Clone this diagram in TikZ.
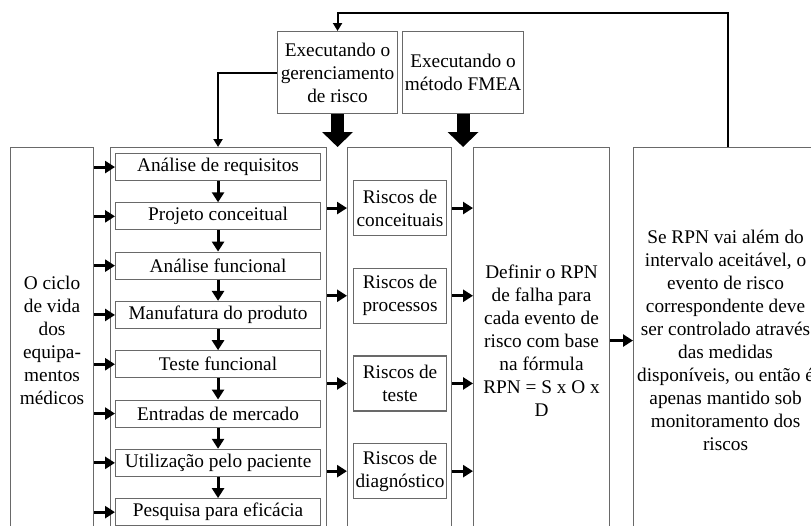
\documentclass[tikz,border=0pt]{standalone}
\usepackage{fontspec}
\setmainfont{Liberation Serif}
\usetikzlibrary{arrows.meta}
\definecolor{boxgray}{RGB}{105,105,105}
\begin{document}
\begin{tikzpicture}[x=1pt,y=-1pt,
  box/.style={draw=boxgray, line width=1.1pt, inner sep=0pt, anchor=north west,
    align=center, font=\fontsize{19.3}{23}\selectfont},
  sarrow/.style={line width=3pt, -{Triangle[length=10pt,width=12pt]}},
  farrow/.style={line width=2pt, -{Triangle[length=8pt,width=9pt]}},
  bigarrow/.style={line width=13pt, -{Triangle[length=15pt,width=30pt]}}
]
\useasboundingbox (0,0) rectangle (811,525);
\clip (0,0) rectangle (811,525);
\fill[white] (0,0) rectangle (811,525);

% top boxes
\node[box, minimum width=120pt, minimum height=82pt] (ger) at (277,31)
  {Executando o\\gerenciamento\\de risco};
\node[box, minimum width=121pt, minimum height=82pt] (fmea) at (402,31)
  {Executando o\\método FMEA};

% main columns
\node[box, minimum width=83pt, minimum height=386pt] (life) at (10,147)
  {O ciclo\\de vida\\dos\\equipa-\\mentos\\médicos};
\node[box, minimum width=216pt, minimum height=400pt] (stages) at (110,147) {};
\node[box, minimum width=104pt, minimum height=400pt] (risks) at (347,147) {};
\node[box, minimum width=136pt, minimum height=386pt] (rpn) at (473,147)
  {Definir o RPN\\de falha para\\cada evento de\\risco com base\\na fórmula\\RPN = S x O x\\D};
\node[box, minimum width=184pt, minimum height=386pt] (act) at (633,147)
  {Se RPN vai além do\\intervalo aceitável, o\\evento de risco\\correspondente deve\\ser controlado através\\das medidas\\disponíveis, ou então é\\apenas mantido sob\\monitoramento dos\\riscos};

% life-cycle stages
\foreach \t [count=\i] in {{Análise de requisitos},{Projeto conceitual},{Análise funcional},
  {Manufatura do produto},{Teste funcional},{Entradas de mercado},
  {Utilização pelo paciente},{Pesquisa para eficácia}}
  \node[box, minimum width=205pt, minimum height=27pt] (s\i) at (115,{153+49.3*(\i-1)}) {\t};

\foreach \i in {1,...,8}
  \draw[sarrow] (life.east |- s\i) -- (s\i.west);
\foreach \i [evaluate=\i as \j using int(\i+1)] in {1,...,7}
  \draw[sarrow] (s\i.south) -- (s\j.north);

% risk boxes
\foreach \t [count=\i] in {{Riscos de\\conceituais},{Riscos de\\processos},
  {Riscos de\\teste},{Riscos de\\diagnóstico}}
  \node[box, minimum width=93pt, minimum height=55pt] (r\i) at (353,{180+87.7*(\i-1)}) {\t};

\foreach \i in {1,...,4} {
  \draw[sarrow] (stages.east |- r\i) -- (risks.west |- r\i);
  \draw[sarrow] (risks.east |- r\i) -- (rpn.west |- r\i);
}
\draw[sarrow] (rpn.east) -- (act.west);

% big arrows
\draw[bigarrow] (ger.south) -- (ger.south |- stages.north);
\draw[bigarrow] (fmea.south) -- (fmea.south |- stages.north);

% feedback and management lines
\coordinate (fb) at (728,13);
\draw[farrow] (act.north -| fb) |- (ger.north |- fb) -- (ger.north);
\draw[farrow] (ger.west) -| (s1.north |- stages.north);
\end{tikzpicture}
\end{document}
